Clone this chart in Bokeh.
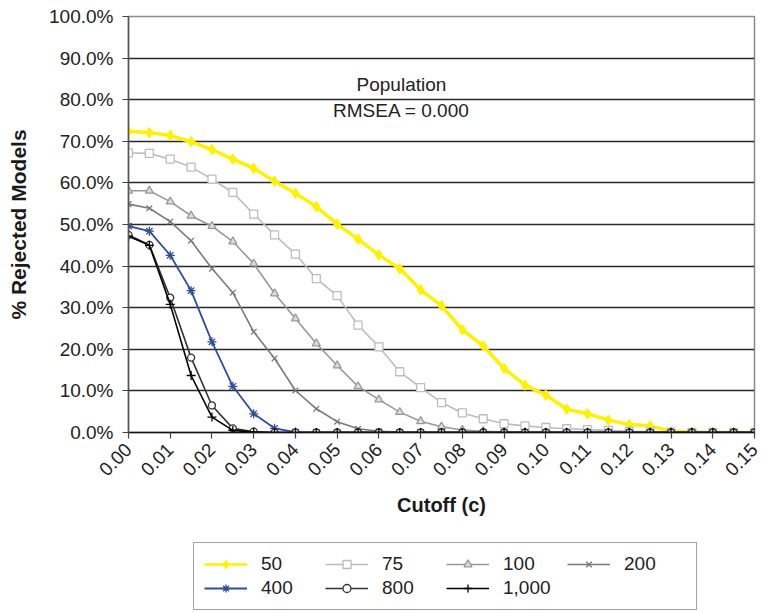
import math
from bokeh.plotting import figure
from bokeh.layouts import column
from bokeh.models import (Legend, LegendItem, Label, FixedTicker, PrintfTickFormatter,
                          Range1d, ColumnDataSource)
from bokeh.embed import file_html
from bokeh.resources import INLINE

# ---------------- data ----------------
cutoff = [0.000, 0.005, 0.010, 0.015, 0.020, 0.025, 0.030, 0.035, 0.040, 0.045,
          0.050, 0.055, 0.060, 0.065, 0.070, 0.075, 0.080, 0.085, 0.090, 0.095,
          0.100, 0.105, 0.110, 0.115, 0.120, 0.125, 0.130, 0.135, 0.140, 0.145, 0.150]

n50 = [72.4, 72.1, 71.4, 69.9, 68.0, 65.7, 63.5, 60.4, 57.5, 54.3,
       50.1, 46.5, 42.7, 39.4, 34.3, 30.5, 24.7, 20.8, 15.4, 11.4,
       9.0, 5.6, 4.5, 3.0, 1.9, 1.6, 0.3, 0.1, 0.0, 0.0, 0.0]
n75 = [67.2, 67.1, 65.7, 63.8, 60.9, 57.7, 52.5, 47.5, 42.9, 37.0,
       32.9, 25.8, 20.6, 14.6, 10.8, 7.2, 4.7, 3.3, 2.1, 1.6,
       1.2, 0.9, 0.7, 0.5, 0.3, 0.2, 0.1, 0.0, 0.0, 0.0, 0.0]
n100 = [58.1, 58.1, 55.5, 52.1, 49.6, 45.9, 40.6, 33.4, 27.4, 21.4,
        16.1, 11.1, 7.9, 4.9, 2.7, 1.4, 0.6, 0.3, 0.1, 0.0,
        0.0, 0.0, 0.0, 0.0, 0.0, 0.0, 0.0, 0.0, 0.0, 0.0, 0.0]
n200 = [54.9, 53.9, 50.7, 46.1, 39.4, 33.6, 24.2, 17.8, 10.1, 5.7,
        2.6, 0.9, 0.3, 0.1, 0.0, 0.0, 0.0, 0.0, 0.0, 0.0,
        0.0, 0.0, 0.0, 0.0, 0.0, 0.0, 0.0, 0.0, 0.0, 0.0, 0.0]
n400 = [49.6, 48.4, 42.6, 34.1, 21.8, 11.1, 4.5, 1.0, 0.1, 0.0,
        0.0, 0.0, 0.0, 0.0, 0.0, 0.0, 0.0, 0.0, 0.0, 0.0,
        0.0, 0.0, 0.0, 0.0, 0.0, 0.0, 0.0, 0.0, 0.0, 0.0, 0.0]
n800 = [47.5, 45.1, 32.4, 18.0, 6.5, 1.0, 0.2, 0.0, 0.0, 0.0,
        0.0, 0.0, 0.0, 0.0, 0.0, 0.0, 0.0, 0.0, 0.0, 0.0,
        0.0, 0.0, 0.0, 0.0, 0.0, 0.0, 0.0, 0.0, 0.0, 0.0, 0.0]
n1000 = [47.2, 45.0, 30.8, 13.7, 3.7, 0.5, 0.1, 0.0, 0.0, 0.0,
         0.0, 0.0, 0.0, 0.0, 0.0, 0.0, 0.0, 0.0, 0.0, 0.0,
         0.0, 0.0, 0.0, 0.0, 0.0, 0.0, 0.0, 0.0, 0.0, 0.0, 0.0]

series_names = ["50", "75", "100", "200", "400", "800", "1,000"]
series_values = [n50, n75, n100, n200, n400, n800, n1000]

x_ticks = [0.00, 0.01, 0.02, 0.03, 0.04, 0.05, 0.06, 0.07, 0.08,
           0.09, 0.10, 0.11, 0.12, 0.13, 0.14, 0.15]
y_ticks = [0, 10, 20, 30, 40, 50, 60, 70, 80, 90, 100]
y_grid = [10, 20, 30, 40, 50, 60, 70, 80, 90]

# ---------------- styles ----------------
styles = [
    dict(color="#FFF200", width=3.5, marker="diamond", size=10, fill="#FFF200"),
    dict(color="#BDBDBD", width=1.6, marker="square", size=8, fill="white"),
    dict(color="#999999", width=1.6, marker="triangle", size=8, fill="#DDDDDD"),
    dict(color="#7A7A7A", width=1.6, marker="x", size=8, fill="white"),
    dict(color="#2F4D98", width=1.8, marker="asterisk", size=9, fill="#2F4D98"),
    dict(color="#333333", width=1.6, marker="circle", size=7, fill="white"),
    dict(color="#000000", width=1.6, marker="cross", size=9, fill="black"),
]

FONT = "Liberation Sans"

p = figure(width=768, height=540, output_backend="svg", toolbar_location=None,
           x_range=Range1d(0, 0.15), y_range=Range1d(0, 100),
           min_border_left=128, min_border_right=14, min_border_top=16,
           min_border_bottom=108)

p.outline_line_color = "#8C8C8C"
p.outline_line_width = 1.5
p.background_fill_color = "white"
p.border_fill_color = "white"

# axes
p.xaxis.ticker = FixedTicker(ticks=x_ticks)
p.xaxis.formatter = PrintfTickFormatter(format="%.2f")
p.xaxis.major_label_orientation = math.pi / 4
p.yaxis.ticker = FixedTicker(ticks=y_ticks)
p.yaxis.formatter = PrintfTickFormatter(format="%.1f%%")
for ax in (p.xaxis[0], p.yaxis[0]):
    ax.minor_tick_line_color = None
    ax.major_tick_in = 0
    ax.major_tick_out = 6
    ax.major_label_text_font = FONT
    ax.major_label_text_font_size = "19px"
    ax.major_label_text_color = "#222222"
    ax.major_tick_line_color = "#444444"
    ax.major_tick_line_width = 1.2
    ax.axis_label_text_font = FONT
    ax.axis_label_text_font_size = "20px"
    ax.axis_label_text_font_style = "bold"
    ax.axis_label_text_color = "#1A1A1A"
p.yaxis.axis_label_text_font_size = "21px"
p.yaxis.major_label_standoff = 9
p.xaxis.major_label_standoff = 8
p.xaxis.axis_line_color = "#111111"
p.xaxis.axis_line_width = 1.5
p.yaxis.axis_line_color = "#555555"
p.yaxis.axis_line_width = 1.5
p.yaxis.axis_label = "% Rejected Models"
p.yaxis.axis_label_standoff = 16
p.xaxis.axis_label = "Cutoff (c)"
p.xaxis.axis_label_standoff = 9

p.xgrid.grid_line_color = None
p.ygrid.ticker = FixedTicker(ticks=y_grid)
p.ygrid.grid_line_color = "#2A2A2A"
p.ygrid.grid_line_width = 1.4

# series
for name, vals, st in zip(series_names, series_values, styles):
    src = ColumnDataSource(dict(x=cutoff, y=vals))
    p.line("x", "y", source=src, line_color=st["color"], line_width=st["width"])
    p.scatter("x", "y", source=src, marker=st["marker"], size=st["size"],
              line_color=st["color"], fill_color=st["fill"], line_width=1.3)

# annotation
p.add_layout(Label(x=0.0654, y=83.6, text="Population", text_align="center",
                   text_baseline="middle", text_font=FONT, text_font_size="19px",
                   text_color="#222222"))
p.add_layout(Label(x=0.0654, y=77.4, text="RMSEA = 0.000", text_align="center",
                   text_baseline="middle", text_font=FONT, text_font_size="19px",
                   text_color="#222222"))

# ---------------- legend strip ----------------
lg = figure(width=768, height=72, output_backend="svg", toolbar_location=None,
            x_range=Range1d(0, 1), y_range=Range1d(0, 1),
            x_axis_location=None, y_axis_location=None,
            min_border=0, min_border_left=0, min_border_right=0,
            min_border_top=0, min_border_bottom=0)
lg.grid.visible = False
lg.outline_line_color = None
lg.background_fill_color = "white"
lg.border_fill_color = "white"

items = []
for name, st in zip(series_names, styles):
    # off-range placeholder so the legend swatches get the series styles
    esrc = ColumnDataSource(dict(x=[-10], y=[-10]))
    ln = lg.line("x", "y", source=esrc, line_color=st["color"],
                 line_width=min(st["width"], 2.5))
    sc = lg.scatter("x", "y", source=esrc, marker=st["marker"], size=st["size"] - 1,
                    line_color=st["color"], fill_color=st["fill"], line_width=1.3)
    items.append(LegendItem(label=name, renderers=[ln, sc]))

legend = Legend(items=items, orientation="horizontal", ncols=4,
                location=(65, 2), border_line_color="#444444",
                border_line_width=1.5, background_fill_color="white",
                background_fill_alpha=1.0,
                label_text_font=FONT, label_text_font_size="19px",
                label_text_color="#222222",
                glyph_width=43, glyph_height=20, label_height=20,
                label_width=62, label_standoff=14, spacing=2, padding=10,
                margin=0)
lg.add_layout(legend, "center")

layout = column(p, lg, spacing=0)
open("out.html", "w").write(file_html(layout, INLINE))
